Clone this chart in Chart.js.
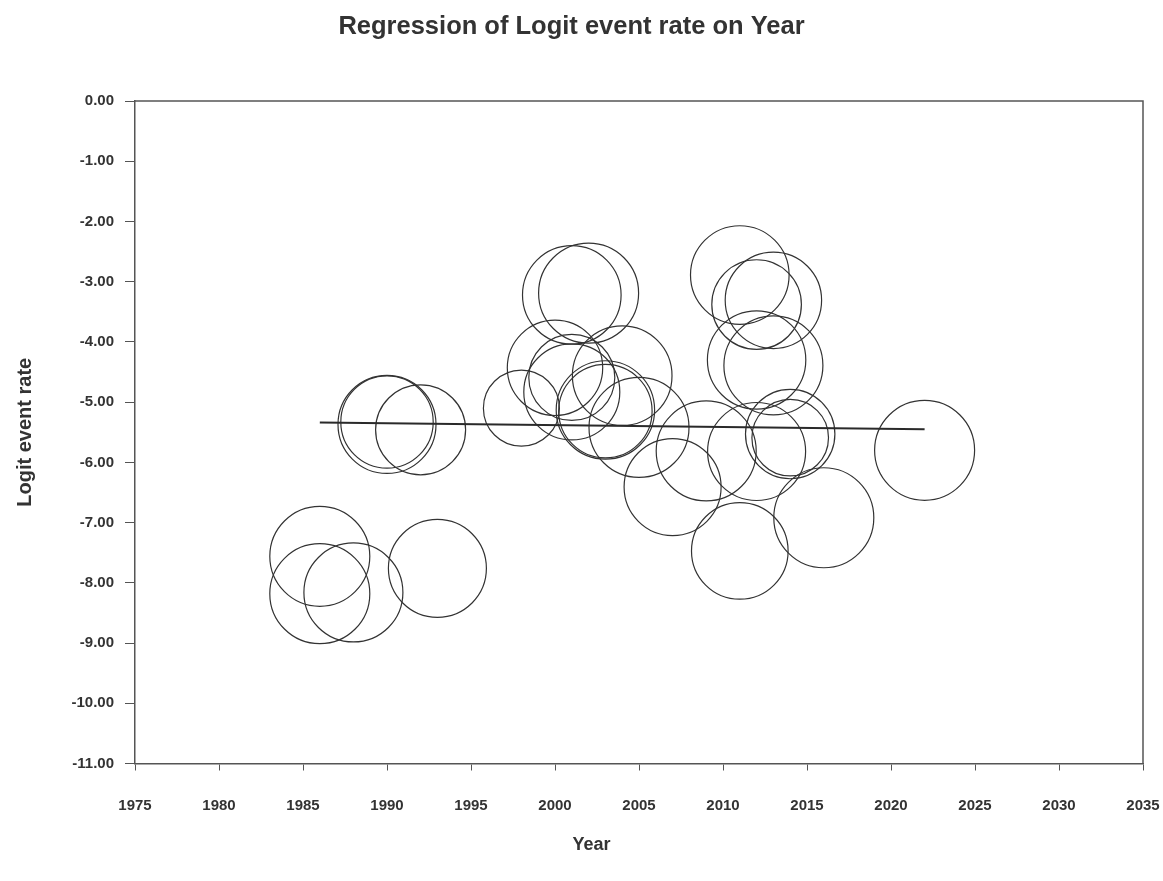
<!DOCTYPE html>
<html>
<head>
<meta charset="utf-8">
<title>Regression of Logit event rate on Year</title>
<script src="https://cdn.jsdelivr.net/npm/chart.js@4.4.1/dist/chart.umd.min.js"></script>
<style>
  html, body { margin: 0; padding: 0; background: #ffffff; }
  #wrap { width: 1163px; height: 881px; }
</style>
</head>
<body>
<div id="wrap"><canvas id="chart" width="1163" height="881"></canvas></div>
<script>
// Study-level points: publication year, logit event rate, bubble size (study weight)
const studyYears = [1986, 1986, 1988, 1993, 1990, 1990, 1992, 1998, 2000, 2001,
                    2002, 2001, 2001, 2003, 2003, 2004, 2005, 2007, 2009, 2012,
                    2014, 2014, 2011, 2016, 2022, 2011, 2012, 2013, 2012, 2013];
const logitRates = [-7.56, -8.18, -8.16, -7.76, -5.37, -5.33, -5.46, -5.10, -4.43, -3.22,
                    -3.19, -4.59, -4.83, -5.13, -5.15, -4.56, -5.42, -6.41, -5.81, -5.82,
                    -5.53, -5.59, -7.47, -6.92, -5.80, -2.89, -3.38, -3.31, -4.30, -4.39];
const studyWeights = [50, 50, 49.5, 49, 49, 46.2, 45, 38, 47.7, 49.3,
                      50, 43, 48, 49.2, 46.7, 49.8, 50, 48.5, 50, 49,
                      44.7, 38.3, 48.3, 50, 50, 49.3, 44.8, 48.2, 49.2, 49.5];

// Fitted meta-regression line, evaluated at the ends of the year range
const fitYears = [1986, 2022];
const fitValues = [-5.34, -5.45];

// Axis ticks
const yearTicks = [1975, 1980, 1985, 1990, 1995, 2000, 2005, 2010, 2015, 2020, 2025, 2030, 2035];
const logitTicks = [0, -1, -2, -3, -4, -5, -6, -7, -8, -9, -10, -11];

const FONT = "'Liberation Sans', Arial, Helvetica, sans-serif";
const TEXT = '#333333';
const AXIS = '#555555';

// Closes the plot frame along the top and right of the chart area
const frameEdges = {
  id: 'frameEdges',
  afterDatasetsDraw(chart) {
    const { ctx, chartArea: a } = chart;
    ctx.save();
    ctx.strokeStyle = AXIS;
    ctx.lineWidth = 1.5;
    ctx.beginPath();
    ctx.moveTo(a.left, a.top);
    ctx.lineTo(a.right, a.top);
    ctx.lineTo(a.right, a.bottom);
    ctx.stroke();
    ctx.restore();
  }
};

// Horizontal axis caption, centred under the whole figure
const xCaption = {
  id: 'xCaption',
  afterDraw(chart) {
    const { ctx } = chart;
    ctx.save();
    ctx.fillStyle = TEXT;
    ctx.font = "bold 18px " + FONT;
    ctx.textAlign = 'center';
    ctx.textBaseline = 'middle';
    ctx.fillText('Year', chart.width / 2 + 10, 845);
    ctx.restore();
  }
};

const bubbles = studyYears.map((x, i) => ({ x, y: logitRates[i], r: studyWeights[i] }));
const fitLine = fitYears.map((x, i) => ({ x, y: fitValues[i] }));

new Chart(document.getElementById('chart'), {
  type: 'bubble',
  data: {
    datasets: [
      {
        type: 'line',
        label: 'Regression',
        data: fitLine,
        borderColor: '#2a2a2a',
        borderWidth: 2,
        pointRadius: 0,
        fill: false,
        order: 0
      },
      {
        label: 'Studies',
        data: bubbles,
        backgroundColor: 'rgba(0,0,0,0)',
        borderColor: '#333333',
        borderWidth: 1.2,
        order: 1
      }
    ]
  },
  options: {
    responsive: false,
    animation: false,
    devicePixelRatio: 1,
    layout: { autoPadding: false, padding: { left: 0, right: 20, top: 0, bottom: 0 } },
    plugins: {
      legend: { display: false },
      tooltip: { enabled: false },
      title: {
        display: true,
        text: 'Regression of Logit event rate on Year',
        color: TEXT,
        font: { family: FONT, size: 25.5, weight: 'bold' },
        padding: { top: 12, bottom: 58.4 }
      }
    },
    scales: {
      x: {
        type: 'linear',
        min: 1975,
        max: 2035,
        afterBuildTicks: s => { s.ticks = yearTicks.map(v => ({ value: v })); },
        afterFit: s => { s.height = 117.5; s.paddingLeft = 0; s.paddingRight = 20; },
        ticks: {
          color: TEXT,
          font: { family: FONT, size: 15, weight: 'bold' },
          padding: 26,
          maxRotation: 0,
          autoSkip: false,
          callback: v => String(v)
        },
        grid: { drawOnChartArea: false, drawTicks: true, tickLength: 7, color: AXIS, lineWidth: 1 },
        border: { display: true, color: AXIS, width: 1.5 }
      },
      y: {
        type: 'linear',
        min: -11,
        max: 0,
        afterBuildTicks: s => { s.ticks = logitTicks.map(v => ({ value: v })); },
        afterFit: s => { s.width = 135; },
        ticks: {
          color: TEXT,
          font: { family: FONT, size: 15, weight: 'bold' },
          padding: 11,
          autoSkip: false,
          callback: v => v.toFixed(2)
        },
        grid: { drawOnChartArea: false, drawTicks: true, tickLength: 10, color: AXIS, lineWidth: 1 },
        border: { display: true, color: AXIS, width: 1.5 },
        title: {
          display: true,
          text: 'Logit event rate',
          color: TEXT,
          font: { family: FONT, size: 20, weight: 'bold' },
          padding: { top: 13, bottom: 0 }
        }
      }
    }
  },
  plugins: [frameEdges, xCaption]
});
</script>
</body>
</html>
